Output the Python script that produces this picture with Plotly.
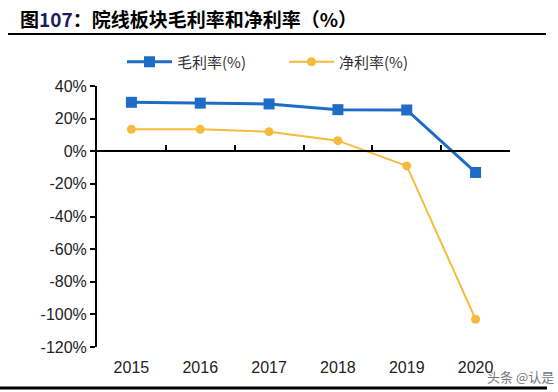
import plotly.graph_objects as go

years = ["2015", "2016", "2017", "2018", "2019", "2020"]
gross_margin = [30.0, 29.5, 29.0, 25.5, 25.3, -13.0]
net_margin = [13.5, 13.5, 12.0, 6.5, -9.0, -103.0]
y_ticks = [40, 20, 0, -20, -40, -60, -80, -100, -120]
y_tick_text = [f"{v}%" for v in y_ticks]

W, H = 558, 392
L, R, T, B = 97, 48, 86, 45
pw, ph = W - L - R, H - T - B

def px(x):
    return (x - L) / pw

def py(y):
    return (H - B - y) / ph

fig = go.Figure()
fig.add_trace(go.Scatter(
    x=years, y=gross_margin, name="毛利率(%)", mode="lines+markers",
    line=dict(color="#1F6CC7", width=3),
    marker=dict(symbol="square", size=11, color="#1F6CC7"),
))
fig.add_trace(go.Scatter(
    x=years, y=net_margin, name="净利率(%)", mode="lines+markers",
    line=dict(color="#F6BA3C", width=2),
    marker=dict(symbol="circle", size=9, color="#F6BA3C"),
))
# helper trace for the zero-line axis
fig.add_trace(go.Scatter(x=years, y=[None] * len(years), xaxis="x2",
                         showlegend=False, hoverinfo="skip"))

fig.update_layout(
    width=W, height=H,
    margin=dict(l=L, r=R, t=T, b=B),
    paper_bgcolor="white", plot_bgcolor="white",
    font=dict(family="Liberation Sans, Noto Sans CJK SC", color="#222"),
    showlegend=True,
    legend=dict(orientation="h", x=px(122), xanchor="left", y=py(62), yanchor="middle",
                font=dict(size=15, color="#333", family="Noto Sans CJK SC"),
                entrywidth=102, itemwidth=45, bgcolor="rgba(0,0,0,0)"),
    xaxis=dict(type="category", categoryorder="array", categoryarray=years,
               range=[-0.5, 5.5], showline=False, showgrid=False, zeroline=False,
               ticks="outside", ticklen=6, tickcolor="rgba(0,0,0,0)",
               tickfont=dict(size=16, color="#222")),
    xaxis2=dict(type="category", categoryorder="array", categoryarray=years,
                range=[-0.5, 5.5], overlaying="x", anchor="free", position=0.75,
                showline=True, linecolor="black", linewidth=2,
                ticks="inside", tickson="boundaries", ticklen=5, tickcolor="black",
                tickwidth=2, showticklabels=False, showgrid=False, zeroline=False),
    yaxis=dict(range=[-120, 40], tickmode="array", tickvals=y_ticks, ticktext=y_tick_text,
               showline=True, linecolor="black", linewidth=2,
               ticks="outside", ticklen=5, tickwidth=2, tickcolor="black",
               showgrid=False, zeroline=False,
               tickfont=dict(size=16, color="#222")),
    shapes=[
        dict(type="line", xref="paper", yref="paper", x0=px(8), x1=px(546),
             y0=py(34), y1=py(34), line=dict(color="black", width=2)),
        dict(type="line", xref="paper", yref="paper", x0=px(0), x1=px(547),
             y0=py(388), y1=py(388), line=dict(color="black", width=3)),
    ],
    annotations=[
        dict(xref="paper", yref="paper", x=px(18), y=py(18), xanchor="left", yanchor="middle",
             showarrow=False,
             text="<b>图<span style='color:#1c1c66'>107</span>：院线板块毛利率和净利率（%）</b>",
             font=dict(size=19, color="black", family="Noto Sans CJK SC")),
        dict(xref="paper", yref="paper", x=px(556), y=py(376), xanchor="right", yanchor="middle",
             showarrow=False, text="头条 @认是",
             font=dict(size=13, color="#777", family="Noto Sans CJK SC")),
    ],
)

fig.write_html("out.html")
